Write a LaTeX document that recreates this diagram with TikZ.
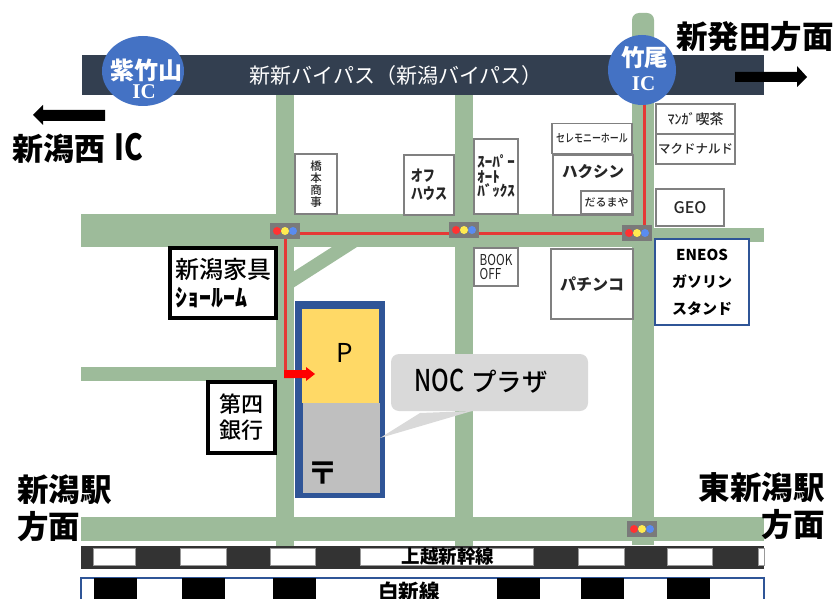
\documentclass[tikz,border=0pt]{standalone}
\usepackage{fontspec}
\setmainfont{Noto Sans CJK JP}
\newfontfamily\jpn[FakeStretch=0.78]{Noto Sans CJK JP}
\newfontfamily\jpm{Noto Sans CJK JP Medium}
\newfontfamily\jpmn[FakeStretch=0.78]{Noto Sans CJK JP Medium}
\newfontfamily\icfont{Liberation Serif}
\newcommand\myfs[2]{\fontsize{#1}{#2}\selectfont}
\usetikzlibrary{shapes.geometric}
\definecolor{roadgreen}{RGB}{157,187,154}
\definecolor{barnavy}{RGB}{51,63,80}
\definecolor{icblue}{RGB}{68,114,196}
\definecolor{bldblue}{RGB}{47,85,151}
\definecolor{routered}{RGB}{229,57,53}
\definecolor{parkyellow}{RGB}{255,217,102}
\definecolor{bldgray}{RGB}{191,191,191}
\definecolor{callgray}{RGB}{217,217,217}
\definecolor{railgray}{RGB}{51,51,51}
\definecolor{lampgray}{RGB}{122,122,122}
\definecolor{lampred}{RGB}{255,50,50}
\definecolor{lampyellow}{RGB}{255,235,80}
\definecolor{lampblue}{RGB}{90,140,240}
\tikzset{
  x=1pt,y=-1pt,
  road/.style={fill=roadgreen,draw=none},
  shop/.style={draw=black!50,line width=1.6pt,fill=white,inner sep=0pt,align=center,text=black!85},
  landmark/.style={draw=black,line width=3.8pt,fill=white,inner sep=0pt},
  icnode/.style={ellipse,fill=icblue,inner sep=0pt},
  iclabel/.style={text=white,inner sep=0pt},
  dirlabel/.style={inner sep=0pt},
  route/.style={draw=routered,line width=3pt},
  thickarrow/.style={fill=black,draw=none},
  railwindow/.style={fill=white,draw=black!40,line width=.5pt},
  railblock/.style={fill=black,draw=none},
}
\newcommand\lamp[3]{%
  \node[fill=lampgray,minimum width=30pt,minimum height=16pt,inner sep=0pt] (#1) at (#2,#3) {};
  \fill[lampred] (#2-8,#3) circle (4pt);
  \fill[lampyellow] (#2,#3) circle (4pt);
  \fill[lampblue] (#2+8,#3) circle (4pt);
}
\begin{document}
\begin{tikzpicture}
\useasboundingbox (0,0) rectangle (835,599);
\clip (0,0) rectangle (835,599);
% roads
\fill[road,rounded corners=7pt] (632,100) -- (632,13) -- (654,13) -- (654,100) -- cycle;
\fill[road] (632,90) rectangle (654,545);
\fill[road] (276,95) rectangle (294,546);
\fill[road] (455,95) rectangle (473,546);
\fill[road] (81,214) rectangle (640,247);
\fill[road] (640,228) rectangle (764,242);
\fill[road] (81,367) rectangle (280,381);
\fill[road] (81,517) rectangle (764,541);
\fill[road] (293,272) -- (332,247) -- (357,247) -- (293,288) -- cycle;
% bypass
\fill[barnavy] (82,55) rectangle (764,95);
\node[inner sep=0pt,text=white,font=\myfs{21}{21}] (bypass) at (396,76) {新新バイパス（新潟バイパス）};
% rail top
\fill[railgray] (81,546) rectangle (764,569);
\foreach \a/\b in {93/135,180/226,270/315,360/533,578/624,667/712,758/764}
  \draw[railwindow] (\a,548) rectangle (\b,565);
\node[inner sep=0pt,font=\bfseries\myfs{18.5}{18.5}] (shinkansen) at (448,556) {上越新幹線};
% rail bottom
\draw[draw=bldblue,line width=1.5pt,fill=white] (81,578) rectangle (764,610);
\foreach \a/\b in {94/137,182/225,273/316,497/540,581/624,667/710}
  \fill[railblock] (\a,578) rectangle (\b,600);
\node[inner sep=0pt,font=\bfseries\myfs{20.5}{20.5}] (hakushin) at (409,592) {白新線};
% building
\fill[bldblue] (295,301) rectangle (385,498);
\fill[parkyellow] (302,309) rectangle (379,403);
\fill[bldgray] (303,403) rectangle (380,493);
\node[inner sep=0pt,font=\myfs{26}{26}] (parking) at (345,353) {P};
\node[inner sep=0pt,font=\bfseries\myfs{31}{31}] (post) at (323,473) {〒};
% callout
\fill[callgray] (380,438) -- (420,413) -- (472,411) -- cycle;
\node[fill=callgray,rounded corners=8pt,minimum width=197pt,minimum height=57pt,inner sep=0pt] (callout) at (489.5,382.5) {};
\node[anchor=west,inner sep=0pt] (noc) at (414,381) {\jpmn\myfs{30}{30}NOC\hspace{7pt}\jpm\myfs{25.5}{26}プラザ};
% route
\coordinate (rA) at (644,105);
\coordinate (rB) at (644,233.5);
\coordinate (rC) at (285,233.5);
\coordinate (rD) at (285,374);
\draw[route] (rA) -- (rB) -- (rC) -- (rD);
\fill[red] (284,370) -- (306,370) -- (306,367) -- (315,374) -- (306,381) -- (306,378) -- (284,378) -- cycle;
% lamps
\lamp{lampA}{285}{231}
\lamp{lampB}{464}{230}
\lamp{lampC}{637}{233}
\lamp{lampD}{642}{529}
% IC
\node[icnode,minimum width=82pt,minimum height=70pt] (icA) at (143,71) {};
\node[iclabel,font=\bfseries\myfs{24}{24}] (icAname) at (146,70) {紫竹山};
\node[iclabel,font=\icfont\bfseries\myfs{21}{21}] (icAic) at (144,92) {IC};
\node[icnode,minimum width=68pt,minimum height=70pt] (icB) at (642,70) {};
\node[iclabel,font=\bfseries\myfs{23.5}{24}] (icBname) at (644.5,58) {竹尾};
\node[iclabel,font=\icfont\bfseries\myfs{21}{21}] (icBic) at (643.5,84) {IC};
% arrows
\fill[thickarrow] (105,110) -- (43,110) -- (43,105) -- (33,115) -- (43,125) -- (43,121) -- (105,121) -- cycle;
\fill[thickarrow] (735,72) -- (797,72) -- (797,66) -- (807,77) -- (797,87) -- (797,82) -- (735,82) -- cycle;
% direction labels
\node[dirlabel,anchor=west,font=\bfseries\myfs{31}{31}] (west) at (12,148) {新潟西\hspace{9pt}{\jpn\myfs{36}{36}IC}};
\node[dirlabel,anchor=east,font=\bfseries\myfs{31.5}{32}] (shibata) at (834,37) {新発田方面};
\node[dirlabel,anchor=west,align=left,font=\bfseries\myfs{31.5}{37}] (niigata) at (17,508) {新潟駅\\方面};
\node[dirlabel,anchor=east,align=right,font=\bfseries\myfs{31.5}{37}] (higashi) at (825,506) {東新潟駅\\方面};
% landmarks
\node[landmark,align=left,minimum width=106pt,minimum height=70pt,font=\jpm\myfs{24}{28}] (kagu) at (223,283) {新潟家具\\{\bfseries\myfs{24}{26}ｼｮｰﾙｰﾑ}};
\node[landmark,align=center,minimum width=67pt,minimum height=71pt,font=\jpm\myfs{22}{26}] (bank) at (241.5,417.5) {第四\\銀行};
% shops
\node[shop,minimum width=42pt,minimum height=60pt,font=\jpm\myfs{11.5}{12}] (hashimoto) at (316,184) {橋\\本\\商\\事};
\node[shop,align=left,minimum width=50pt,minimum height=60pt,font=\jpn\bfseries\myfs{15.5}{18}] (off) at (429,185) {オフ\\ハウス};
\node[shop,align=left,minimum width=44pt,minimum height=75pt,font=\bfseries\myfs{15}{14.5}] (super) at (496,176.5) {ｽｰﾊﾟｰ\\ｵｰﾄ\\ﾊﾞｯｸｽ};
\node[shop,minimum width=80pt,minimum height=60pt,anchor=north west] (hakushinshop) at (552,154) {};
\node[inner sep=0pt,font=\bfseries\myfs{15.5}{16},text=black!85] (hakushinlabel) at (593,172) {ハクシン};
\node[shop,minimum width=80pt,minimum height=30pt,font=\jpmn\myfs{11.5}{12}] (ceremony) at (592,138.5) {セレモニーホール};
\node[shop,minimum width=51pt,minimum height=23pt,font=\jpm\myfs{11}{11}] (daruma) at (606.5,202.5) {だるまや};
\node[shop,minimum width=79pt,minimum height=30pt,font=\jpm\myfs{14}{14}] (manga) at (695.5,119) {ﾏﾝｶﾞ喫茶};
\node[shop,minimum width=79pt,minimum height=30pt,font=\jpm\myfs{12.5}{13}] (mac) at (695.5,149) {マクドナルド};
\node[shop,minimum width=68pt,minimum height=37pt,font=\jpm\myfs{16}{16}] (geo) at (690,207.5) {GEO};
\node[shop,align=left,minimum width=44pt,minimum height=38pt,font=\jpn\myfs{15}{14}] (book) at (496,267) {BOOK\\OFF};
\node[shop,minimum width=82pt,minimum height=70pt,font=\bfseries\myfs{16}{16}] (pachinko) at (592,284) {パチンコ};
\node[draw=bldblue,line width=1.6pt,fill=white,inner sep=0pt,align=center,minimum width=94pt,minimum height=86pt,font=\bfseries\myfs{15}{27}] (eneos) at (702,282) {ENEOS\\ガソリン\\スタンド};
\end{tikzpicture}
\end{document}
